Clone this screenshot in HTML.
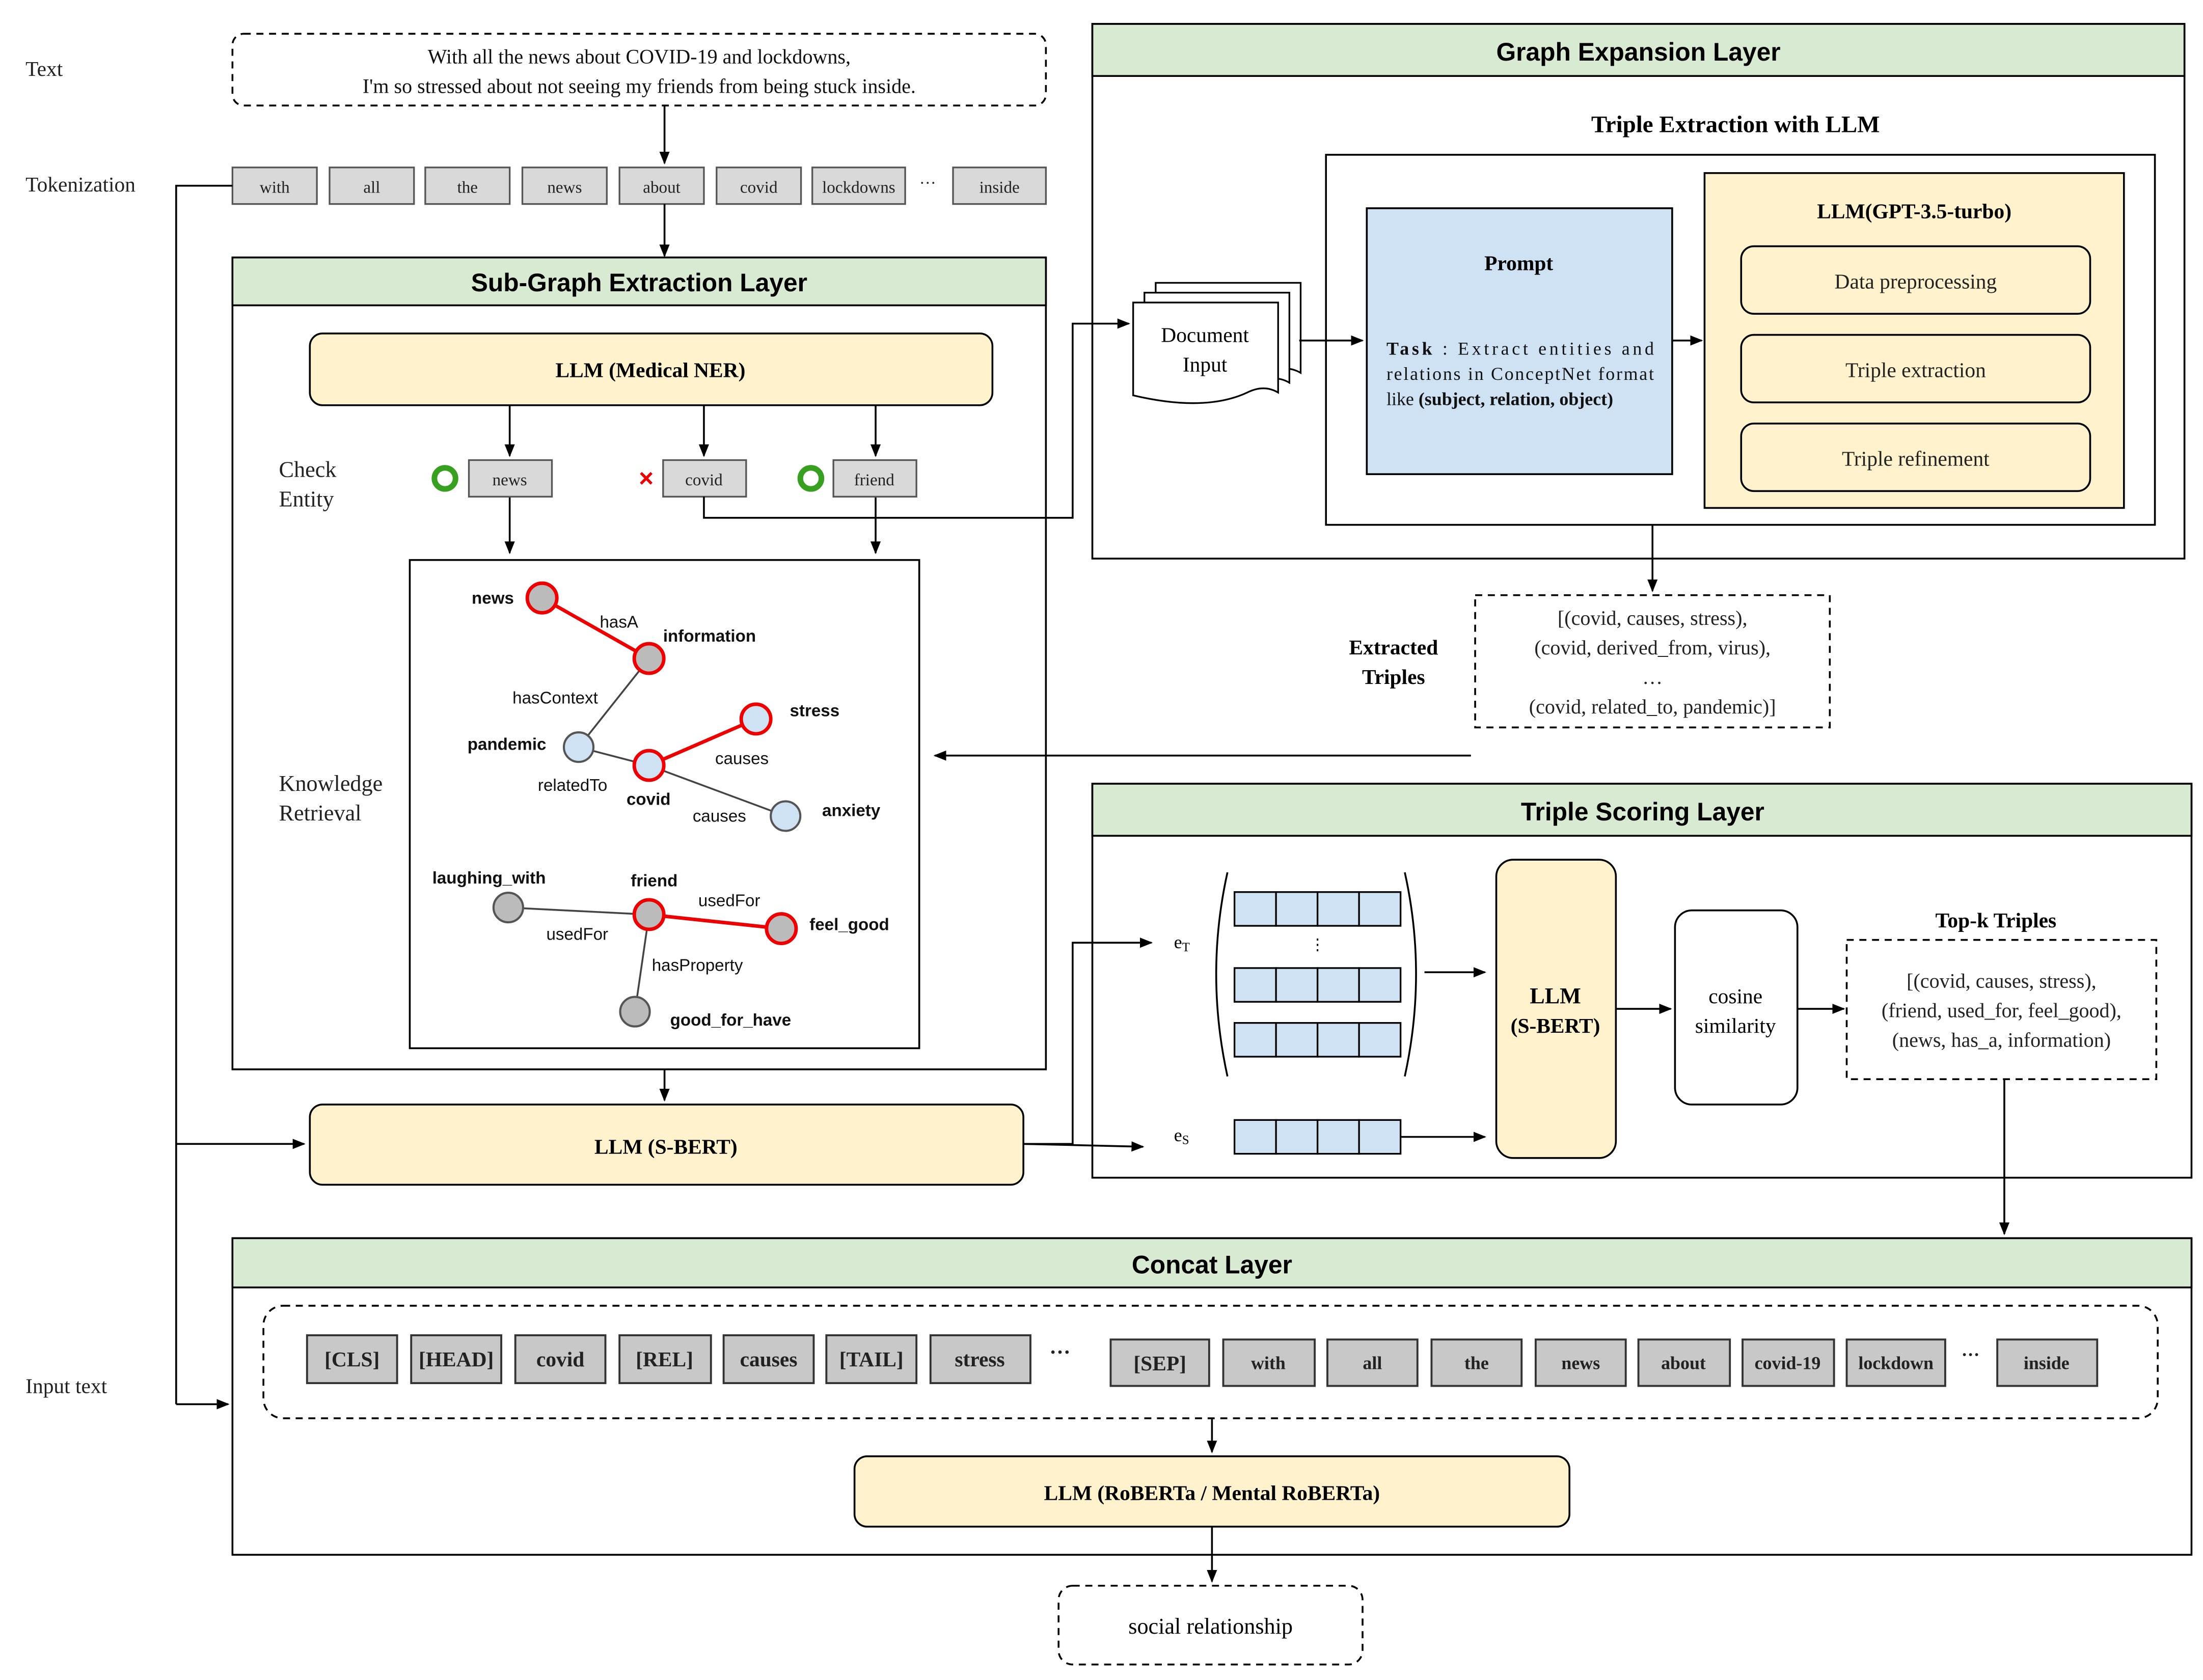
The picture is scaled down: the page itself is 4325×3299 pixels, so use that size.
<!DOCTYPE html>
<html><head><meta charset="utf-8"><style>
html,body{margin:0;padding:0;background:#fff;}
svg{display:block;}
.s{font-family:"Liberation Serif",serif;}
.a{font-family:"Liberation Sans",sans-serif;}
</style></head><body>
<svg width="4325" height="3299" viewBox="0 0 1565 1194" xmlns="http://www.w3.org/2000/svg">
<defs>
<marker id="ar" viewBox="0 0 10 10" refX="9" refY="5" markerWidth="7" markerHeight="7" orient="auto-start-reverse"><path d="M0,1 L10,5 L0,9 z" fill="#000"/></marker>
</defs>
<rect width="1565" height="1194" fill="#fff"/>
<g class="s" font-size="15" fill="#222">
<text x="18" y="54">Text</text>
<text x="18" y="136">Tokenization</text>
<text x="18" y="990">Input text</text>
</g>
<rect x="165" y="24" width="578" height="51" rx="8" fill="#fff" stroke="#000" stroke-dasharray="5,4" stroke-width="1.3"/>
<g class="s" font-size="14.5" text-anchor="middle" fill="#111">
<text x="454" y="45">With all the news about COVID-19 and lockdowns,</text>
<text x="454" y="66">I'm so stressed about not seeing my friends  from being stuck inside.</text>
</g>
<g class="s" font-size="12" text-anchor="middle" fill="#222">
<g stroke="#555" fill="#d9d9d9" stroke-width="1.2">
<rect x="165" y="119" width="60" height="26"/><rect x="234" y="119" width="60" height="26"/>
<rect x="302" y="119" width="60" height="26"/><rect x="371" y="119" width="60" height="26"/>
<rect x="440" y="119" width="60" height="26"/><rect x="509" y="119" width="60" height="26"/>
<rect x="577" y="119" width="66" height="26"/><rect x="677" y="119" width="66" height="26"/>
</g>
<text x="195" y="137">with</text><text x="264" y="137">all</text><text x="332" y="137">the</text>
<text x="401" y="137">news</text><text x="470" y="137">about</text><text x="539" y="137">covid</text>
<text x="610" y="137">lockdowns</text><text x="659" y="134">···</text><text x="710" y="137">inside</text>
</g>
<g stroke="#000" stroke-width="1.3" fill="none" marker-end="url(#ar)">
<line x1="472" y1="75" x2="472" y2="116"/>
<line x1="472" y1="145" x2="472" y2="182"/>
</g>
<rect x="165" y="183" width="578" height="577" fill="#fff" stroke="#000" stroke-width="1.3"/>
<rect x="165" y="183" width="578" height="34" fill="#d9ead3" stroke="#000" stroke-width="1.3"/>
<text class="a" x="454" y="207" font-size="18" font-weight="bold" text-anchor="middle">Sub-Graph Extraction Layer</text>
<g class="s" font-size="16" fill="#222">
<text x="198" y="339">Check</text><text x="198" y="360">Entity</text>
<text x="198" y="562">Knowledge</text><text x="198" y="583">Retrieval</text>
</g>
<rect x="220" y="237" width="485" height="51" rx="9" fill="#fff2cc" stroke="#000" stroke-width="1.3"/>
<text class="s" x="462" y="268" font-size="15" font-weight="bold" text-anchor="middle">LLM (Medical NER)</text>
<g stroke="#000" stroke-width="1.3" fill="none" marker-end="url(#ar)">
<line x1="362" y1="288" x2="362" y2="324"/><line x1="500" y1="288" x2="500" y2="324"/><line x1="622" y1="288" x2="622" y2="324"/>
<line x1="362" y1="353" x2="362" y2="393"/><line x1="622" y1="353" x2="622" y2="393"/>
</g>
<g class="s" font-size="12" text-anchor="middle" fill="#222">
<g stroke="#555" fill="#d9d9d9" stroke-width="1.2">
<rect x="333" y="327" width="59" height="26"/><rect x="471" y="327" width="59" height="26"/><rect x="592" y="327" width="59" height="26"/>
</g>
<text x="362" y="345">news</text><text x="500" y="345">covid</text><text x="621" y="345">friend</text>
</g>
<circle cx="316" cy="340" r="7.5" fill="none" stroke="#38a020" stroke-width="4"/>
<circle cx="576" cy="340" r="7.5" fill="none" stroke="#38a020" stroke-width="4"/>
<text x="459" y="346" font-size="18" font-weight="bold" fill="#e00" text-anchor="middle" class="a">×</text>
<rect x="291" y="398" width="362" height="347" fill="#fff" stroke="#000" stroke-width="1.3"/>
<g stroke-width="2.5">
<line x1="385" y1="425" x2="461" y2="468" stroke="#e00"/>
<line x1="461" y1="468" x2="411" y2="531" stroke="#444" stroke-width="1.3"/>
<line x1="411" y1="531" x2="461" y2="544" stroke="#444" stroke-width="1.3"/>
<line x1="461" y1="544" x2="537" y2="511" stroke="#e00"/>
<line x1="461" y1="544" x2="558" y2="580" stroke="#444" stroke-width="1.3"/>
<line x1="361" y1="645" x2="461" y2="650" stroke="#444" stroke-width="1.3"/>
<line x1="461" y1="650" x2="555" y2="660" stroke="#e00"/>
<line x1="461" y1="650" x2="451" y2="719" stroke="#444" stroke-width="1.3"/>
</g>
<g stroke-width="2.5">
<circle cx="385" cy="425" r="10.5" fill="#bbb" stroke="#e00"/>
<circle cx="461" cy="468" r="10.5" fill="#bbb" stroke="#e00"/>
<circle cx="411" cy="531" r="10.5" fill="#cfe2f3" stroke="#555" stroke-width="1.5"/>
<circle cx="537" cy="511" r="10.5" fill="#cfe2f3" stroke="#e00"/>
<circle cx="461" cy="544" r="10.5" fill="#cfe2f3" stroke="#e00"/>
<circle cx="558" cy="580" r="10.5" fill="#cfe2f3" stroke="#555" stroke-width="1.5"/>
<circle cx="361" cy="645" r="10.5" fill="#bbb" stroke="#555" stroke-width="1.5"/>
<circle cx="461" cy="650" r="10.5" fill="#bbb" stroke="#e00"/>
<circle cx="555" cy="660" r="10.5" fill="#bbb" stroke="#e00"/>
<circle cx="451" cy="719" r="10.5" fill="#bbb" stroke="#555" stroke-width="1.5"/>
</g>
<g class="a" font-size="12" fill="#111">
<g font-weight="bold">
<text x="335" y="429">news</text><text x="471" y="456">information</text>
<text x="332" y="533">pandemic</text><text x="561" y="509">stress</text>
<text x="445" y="572">covid</text><text x="584" y="580">anxiety</text>
<text x="307" y="628">laughing_with</text><text x="448" y="630">friend</text>
<text x="575" y="661">feel_good</text><text x="476" y="729">good_for_have</text>
</g>
<text x="426" y="446">hasA</text><text x="364" y="500">hasContext</text>
<text x="508" y="543">causes</text><text x="382" y="562">relatedTo</text>
<text x="492" y="584">causes</text><text x="496" y="644">usedFor</text>
<text x="388" y="668">usedFor</text><text x="463" y="690">hasProperty</text>
</g>
<line x1="472" y1="760" x2="472" y2="782" stroke="#000" stroke-width="1.3" marker-end="url(#ar)"/>
<rect x="220" y="785" width="507" height="57" rx="9" fill="#fff2cc" stroke="#000" stroke-width="1.3"/>
<text class="s" x="473" y="820" font-size="15" font-weight="bold" text-anchor="middle">LLM (S-BERT)</text>
<g stroke="#000" stroke-width="1.3" fill="none">
<polyline points="165,132 125,132 125,998"/>
<line x1="125" y1="813" x2="216" y2="813" marker-end="url(#ar)"/>
<line x1="125" y1="998" x2="162" y2="998" marker-end="url(#ar)"/>
</g>
<!-- Graph expansion -->
<rect x="776" y="17" width="776" height="380" fill="#fff" stroke="#000" stroke-width="1.3"/>
<rect x="776" y="17" width="776" height="37" fill="#d9ead3" stroke="#000" stroke-width="1.3"/>
<text class="a" x="1164" y="43" font-size="18" font-weight="bold" text-anchor="middle">Graph Expansion Layer</text>
<text class="s" x="1233" y="94" font-size="17" font-weight="bold" text-anchor="middle">Triple Extraction with LLM</text>
<rect x="942" y="110" width="589" height="263" fill="#fff" stroke="#000" stroke-width="1.3"/>
<g fill="#fff" stroke="#000" stroke-width="1.2">
<path d="M821,201 h103 v64 q-10,-6 -22,0 q-30,14 -81,2 z"/>
<path d="M813,208 h103 v64 q-10,-6 -22,0 q-30,14 -81,2 z"/>
<path d="M805,215 h103 v64 q-10,-6 -22,0 q-30,14 -81,2 z"/>
</g>
<text class="s" x="856" y="243" font-size="15" text-anchor="middle">Document</text>
<text class="s" x="856" y="264" font-size="15" text-anchor="middle">Input</text>
<line x1="923" y1="242" x2="968" y2="242" stroke="#000" stroke-width="1.3" marker-end="url(#ar)"/>
<rect x="971" y="148" width="217" height="189" fill="#cfe2f3" stroke="#000" stroke-width="1.3"/>
<text class="s" x="1079" y="192" font-size="15" font-weight="bold" text-anchor="middle">Prompt</text>
<g class="s" font-size="13" fill="#111">
<text x="985" y="252" textLength="190" lengthAdjust="spacing"><tspan font-weight="bold">Task</tspan>  :  Extract  entities  and</text>
<text x="985" y="270" textLength="190" lengthAdjust="spacing">relations in ConceptNet format</text>
<text x="985" y="288">like <tspan font-weight="bold">(subject, relation, object)</tspan></text>
</g>
<line x1="1188" y1="242" x2="1209" y2="242" stroke="#000" stroke-width="1.3" marker-end="url(#ar)"/>
<rect x="1211" y="123" width="298" height="238" fill="#fff2cc" stroke="#000" stroke-width="1.3"/>
<text class="s" x="1360" y="155" font-size="15" font-weight="bold" text-anchor="middle">LLM(GPT-3.5-turbo)</text>
<g fill="#fff2cc" stroke="#000" stroke-width="1.3">
<rect x="1237" y="175" width="248" height="48" rx="9"/><rect x="1237" y="238" width="248" height="48" rx="9"/><rect x="1237" y="301" width="248" height="48" rx="9"/>
</g>
<g class="s" font-size="15" text-anchor="middle" fill="#222">
<text x="1361" y="205">Data preprocessing</text><text x="1361" y="268">Triple extraction</text><text x="1361" y="331">Triple refinement</text>
</g>
<line x1="1174" y1="373" x2="1174" y2="420" stroke="#000" stroke-width="1.3" marker-end="url(#ar)"/>
<text class="s" x="990" y="465" font-size="15" font-weight="bold" text-anchor="middle">Extracted</text>
<text class="s" x="990" y="486" font-size="15" font-weight="bold" text-anchor="middle">Triples</text>
<rect x="1048" y="423" width="252" height="94" fill="#fff" stroke="#000" stroke-dasharray="5,4" stroke-width="1.3"/>
<g class="s" font-size="14.5" text-anchor="middle" fill="#222">
<text x="1174" y="444">[(covid, causes, stress),</text>
<text x="1174" y="465">(covid, derived_from, virus),</text>
<text x="1174" y="486">…</text>
<text x="1174" y="507">(covid, related_to, pandemic)]</text>
</g>
<line x1="1045" y1="537" x2="664" y2="537" stroke="#000" stroke-width="1.3" marker-end="url(#ar)"/>
<!-- Triple scoring -->
<rect x="776" y="557" width="781" height="280" fill="#fff" stroke="#000" stroke-width="1.3"/>
<rect x="776" y="557" width="781" height="37" fill="#d9ead3" stroke="#000" stroke-width="1.3"/>
<text class="a" x="1167" y="583" font-size="18" font-weight="bold" text-anchor="middle">Triple Scoring Layer</text>
<text class="s" x="834" y="674" font-size="13">e<tspan font-size="9" dy="2">T</tspan></text>
<text class="s" x="834" y="811" font-size="13">e<tspan font-size="9" dy="2">S</tspan></text>
<path d="M872,620 q-16,72 0,145" fill="none" stroke="#000" stroke-width="1.3"/>
<path d="M998,620 q16,72 0,145" fill="none" stroke="#000" stroke-width="1.3"/>
<g fill="#cfe2f3" stroke="#000" stroke-width="1.2">
<rect x="877" y="634" width="29.5" height="24"/><rect x="906.5" y="634" width="29.5" height="24"/><rect x="936" y="634" width="29.5" height="24"/><rect x="965.5" y="634" width="29.5" height="24"/>
<rect x="877" y="688" width="29.5" height="24"/><rect x="906.5" y="688" width="29.5" height="24"/><rect x="936" y="688" width="29.5" height="24"/><rect x="965.5" y="688" width="29.5" height="24"/>
<rect x="877" y="727" width="29.5" height="24"/><rect x="906.5" y="727" width="29.5" height="24"/><rect x="936" y="727" width="29.5" height="24"/><rect x="965.5" y="727" width="29.5" height="24"/>
<rect x="877" y="796" width="29.5" height="24"/><rect x="906.5" y="796" width="29.5" height="24"/><rect x="936" y="796" width="29.5" height="24"/><rect x="965.5" y="796" width="29.5" height="24"/>
</g>
<text x="936" y="675" font-size="11" text-anchor="middle">⋮</text>
<g stroke="#000" stroke-width="1.3" marker-end="url(#ar)">
<line x1="1012" y1="691" x2="1055" y2="691"/><line x1="995" y1="808" x2="1055" y2="808"/>
<line x1="1148" y1="717" x2="1187" y2="717"/><line x1="1277" y1="717" x2="1310" y2="717"/>
<line x1="1424" y1="767" x2="1424" y2="877"/>
</g>
<rect x="1063" y="611" width="85" height="212" rx="12" fill="#fff2cc" stroke="#000" stroke-width="1.3"/>
<text class="s" x="1105" y="713" font-size="16" font-weight="bold" text-anchor="middle">LLM</text>
<text class="s" x="1105" y="734" font-size="15" font-weight="bold" text-anchor="middle">(S-BERT)</text>
<rect x="1190" y="647" width="87" height="138" rx="12" fill="#fff" stroke="#000" stroke-width="1.3"/>
<text class="s" x="1233" y="713" font-size="15" text-anchor="middle">cosine</text>
<text class="s" x="1233" y="734" font-size="15" text-anchor="middle">similarity</text>
<text class="s" x="1418" y="659" font-size="15" font-weight="bold" text-anchor="middle">Top-k Triples</text>
<rect x="1312" y="668" width="220" height="99" fill="#fff" stroke="#000" stroke-dasharray="5,4" stroke-width="1.3"/>
<g class="s" font-size="14.5" text-anchor="middle" fill="#222">
<text x="1422" y="702">[(covid, causes, stress),</text>
<text x="1422" y="723">(friend, used_for, feel_good),</text>
<text x="1422" y="744">(news, has_a, information)</text>
</g>
<!-- Concat -->
<rect x="165" y="880" width="1392" height="225" fill="#fff" stroke="#000" stroke-width="1.3"/>
<rect x="165" y="880" width="1392" height="35" fill="#d9ead3" stroke="#000" stroke-width="1.3"/>
<text class="a" x="861" y="905" font-size="18" font-weight="bold" text-anchor="middle">Concat Layer</text>
<rect x="187" y="928" width="1346" height="80" rx="14" fill="#fff" stroke="#000" stroke-dasharray="5,4" stroke-width="1.3"/>
<g stroke="#333" fill="#c8c8c8" stroke-width="1.4">
<rect x="218" y="949" width="64" height="34"/><rect x="292" y="949" width="64" height="34"/><rect x="366" y="949" width="64" height="34"/>
<rect x="440" y="949" width="65" height="34"/><rect x="514" y="949" width="64" height="34"/><rect x="587" y="949" width="64" height="34"/>
<rect x="661" y="949" width="71" height="34"/>
<rect x="789" y="952" width="70" height="33"/><rect x="869" y="952" width="65" height="33"/><rect x="943" y="952" width="64" height="33"/>
<rect x="1017" y="952" width="64" height="33"/><rect x="1091" y="952" width="64" height="33"/><rect x="1164" y="952" width="65" height="33"/>
<rect x="1238" y="952" width="65" height="33"/><rect x="1312" y="952" width="70" height="33"/><rect x="1419" y="952" width="71" height="33"/>
</g>
<g class="s" font-weight="bold" text-anchor="middle" fill="#222">
<g font-size="15">
<text x="250" y="971">[CLS]</text><text x="324" y="971">[HEAD]</text><text x="398" y="971">covid</text>
<text x="472" y="971">[REL]</text><text x="546" y="971">causes</text><text x="619" y="971">[TAIL]</text><text x="696" y="971">stress</text>
<text x="753" y="966">···</text>
<text x="824" y="974">[SEP]</text>
</g>
<g font-size="13">
<text x="901" y="973">with</text><text x="975" y="973">all</text><text x="1049" y="973">the</text>
<text x="1123" y="973">news</text><text x="1196" y="973">about</text><text x="1270" y="973">covid-19</text>
<text x="1347" y="973">lockdown</text><text x="1400" y="967">···</text><text x="1454" y="973">inside</text>
</g>
</g>
<g stroke="#000" stroke-width="1.3" marker-end="url(#ar)">
<line x1="861" y1="1008" x2="861" y2="1032"/><line x1="861" y1="1085" x2="861" y2="1124"/>
</g>
<rect x="607" y="1035" width="508" height="50" rx="9" fill="#fff2cc" stroke="#000" stroke-width="1.3"/>
<text class="s" x="861" y="1066" font-size="15" font-weight="bold" text-anchor="middle">LLM (RoBERTa / Mental RoBERTa)</text>
<rect x="752" y="1127" width="216" height="56" rx="10" fill="#fff" stroke="#000" stroke-dasharray="5,4" stroke-width="1.3"/>
<text class="s" x="860" y="1161" font-size="16" text-anchor="middle">social relationship</text>
<!-- connectors drawn on top -->
<g stroke="#000" stroke-width="1.3" fill="none" marker-end="url(#ar)">
<polyline points="500,353 500,368 762,368 762,230 802,230"/>
<polyline points="727,813 762,813 762,670 818,670"/>
<line x1="727" y1="813" x2="812" y2="815"/>
</g>
</svg>
</body></html>
